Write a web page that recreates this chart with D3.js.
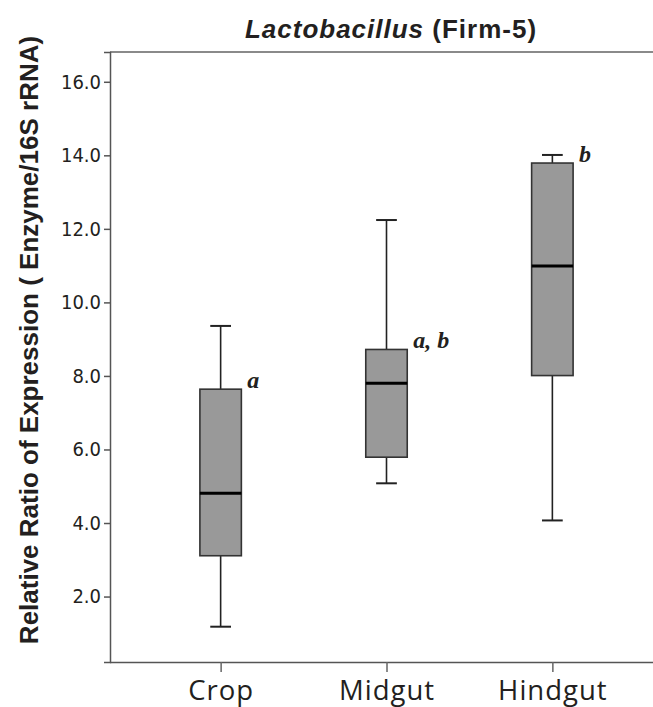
<!DOCTYPE html>
<html>
<head>
<meta charset="utf-8">
<script src="https://cdn.jsdelivr.net/npm/d3@7"></script>
<style>
  body { margin: 0; background: #fff; }
  svg { display: block; }
</style>
</head>
<body>
<div id="chart"></div>
<script>
// values
const categories = ['Crop', 'Midgut', 'Hindgut']
const whiskerLow = [1.18, 5.08, 4.07]
const q1 = [3.11, 5.79, 8.01]
const medians = [4.81, 7.80, 10.99]
const q3 = [7.64, 8.72, 13.79]
const whiskerHigh = [9.36, 12.24, 14.01]
const sigLetters = ['a', 'a, b', 'b']
const yTicks = [2, 4, 6, 8, 10, 12, 14, 16]

const width = 653
const height = 707
const margin = { left: 110, top: 52, bottom: 662, right: 663 }

const boxes = categories.map((c, i) => ({
	cat: c,
	lo: whiskerLow[i],
	q1: q1[i],
	med: medians[i],
	q3: q3[i],
	hi: whiskerHigh[i],
	letter: sigLetters[i],
}))

const svg = d3
	.select('#chart')
	.append('svg')
	.attr('width', width)
	.attr('height', height)

const x = d3.scalePoint().domain(categories).range([margin.left, margin.right]).padding(0.667)
const y = d3.scaleLinear().domain([0.22, 16.81]).range([margin.bottom, margin.top])
const boxW = x.step() * 0.25
const capW = boxW * 0.5

// frame: grey top line, darker left + bottom axes
svg.append('line')
	.attr('x1', margin.left).attr('x2', width + 5)
	.attr('y1', margin.top).attr('y2', margin.top)
	.attr('stroke', '#8a8a8a').attr('stroke-width', 2)

// y axis
const yAxis = svg
	.append('g')
	.attr('transform', `translate(${margin.left},0)`)
	.call(d3.axisLeft(y).tickValues(yTicks).tickFormat(d3.format('.1f')).tickSize(6).tickPadding(3))
yAxis.select('.domain').attr('stroke', '#555').attr('stroke-width', 1.5)
yAxis.selectAll('.tick line').attr('stroke', '#555').attr('stroke-width', 1.5)
yAxis.selectAll('.tick text')
	.attr('font-family', '"Liberation Sans Narrow", "DejaVu Sans Condensed", sans-serif')
	.attr('font-size', 20)
	.attr('fill', '#231f20')

// x axis
const xAxis = svg
	.append('g')
	.attr('transform', `translate(0,${margin.bottom})`)
	.call(d3.axisBottom(x).tickSize(10).tickPadding(8))
xAxis.select('.domain').attr('d', `M${margin.left},0.5H${width + 5}`).attr('stroke', '#555').attr('stroke-width', 1.5)
xAxis.selectAll('.tick line').attr('stroke', '#666').attr('stroke-width', 1.5)
xAxis.selectAll('.tick text')
	.attr('font-family', '"Open Sans", "Noto Sans", sans-serif')
	.attr('font-size', 27.5)
	.attr('letter-spacing', 1)
	.attr('fill', '#231f20')
	.attr('dy', '0.72em')

// boxes
const g = svg.append('g').selectAll('g').data(boxes).join('g')

// whiskers
g.append('line')
	.attr('x1', d => x(d.cat)).attr('x2', d => x(d.cat))
	.attr('y1', d => y(d.hi)).attr('y2', d => y(d.q3))
	.attr('stroke', '#222').attr('stroke-width', 1.6)
g.append('line')
	.attr('x1', d => x(d.cat)).attr('x2', d => x(d.cat))
	.attr('y1', d => y(d.q1)).attr('y2', d => y(d.lo))
	.attr('stroke', '#222').attr('stroke-width', 1.6)
g.append('line')
	.attr('x1', d => x(d.cat) - capW / 2).attr('x2', d => x(d.cat) + capW / 2)
	.attr('y1', d => y(d.hi)).attr('y2', d => y(d.hi))
	.attr('stroke', '#222').attr('stroke-width', 2)
g.append('line')
	.attr('x1', d => x(d.cat) - capW / 2).attr('x2', d => x(d.cat) + capW / 2)
	.attr('y1', d => y(d.lo)).attr('y2', d => y(d.lo))
	.attr('stroke', '#222').attr('stroke-width', 2)

g.append('rect')
	.attr('x', d => x(d.cat) - boxW / 2)
	.attr('width', boxW)
	.attr('y', d => y(d.q3))
	.attr('height', d => y(d.q1) - y(d.q3))
	.attr('fill', '#999999')
	.attr('stroke', '#333')
	.attr('stroke-width', 1.6)

g.append('line')
	.attr('x1', d => x(d.cat) - boxW / 2).attr('x2', d => x(d.cat) + boxW / 2)
	.attr('y1', d => y(d.med)).attr('y2', d => y(d.med))
	.attr('stroke', '#000').attr('stroke-width', 3)

// significance letters
g.append('text')
	.attr('x', d => x(d.cat) + boxW / 2 + 6)
	.attr('y', d => y(d.q3) - 1)
	.attr('font-family', '"Liberation Serif", "DejaVu Serif", serif')
	.attr('font-style', 'italic')
	.attr('font-weight', 'bold')
	.attr('font-size', 24)
	.attr('fill', '#231f20')
	.text(d => d.letter)

// title
const title = svg.append('text')
	.attr('x', 391)
	.attr('y', 38)
	.attr('text-anchor', 'middle')
	.attr('font-family', '"Liberation Sans", Arial, sans-serif')
	.attr('font-weight', 'bold')
	.attr('font-size', 26)
	.attr('letter-spacing', 1)
	.attr('fill', '#231f20')
title.append('tspan').attr('font-style', 'italic').text('Lactobacillus')
title.append('tspan').text(' (Firm-5)')

// y axis title
svg.append('text')
	.attr('transform', 'translate(38,340) rotate(-90)')
	.attr('text-anchor', 'middle')
	.attr('font-family', '"Liberation Sans", Arial, sans-serif')
	.attr('font-weight', 'bold')
	.attr('font-size', 26)
	.attr('fill', '#231f20')
	.text('Relative Ratio of Expression ( Enzyme/16S rRNA)')
</script>
</body>
</html>
